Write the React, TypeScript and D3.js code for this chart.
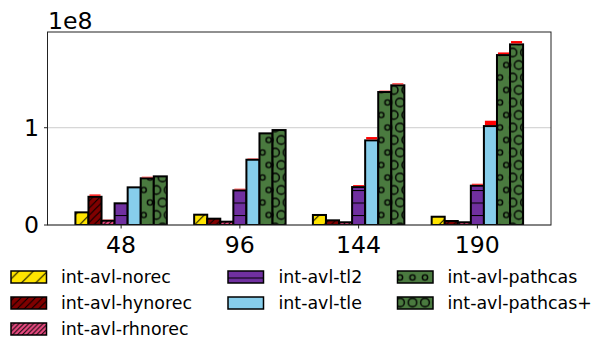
import React from 'react'
import * as d3 from 'd3'

// thread counts on the x axis
const categories = ['48', '96', '144', '190']

const seriesNames = [
  'int-avl-norec',
  'int-avl-hynorec',
  'int-avl-rhnorec',
  'int-avl-tl2',
  'int-avl-tle',
  'int-avl-pathcas',
  'int-avl-pathcas+'
]

// values in units of 1e8, one array per series (48, 96, 144, 190)
const norec = [0.13, 0.106, 0.103, 0.085]
const hynorec = [0.29, 0.065, 0.048, 0.041]
const rhnorec = [0.044, 0.034, 0.028, 0.028]
const tl2 = [0.223, 0.356, 0.39, 0.404]
const tle = [0.387, 0.671, 0.87, 1.017]
const pathcas = [0.48, 0.942, 1.367, 1.747]
const pathcasPlus = [0.5, 0.976, 1.436, 1.857]

// error bar half-widths (1e8)
const norecErr = [0.004, 0.01, 0.005, 0.005]
const hynorecErr = [0.024, 0.01, 0.005, 0.005]
const rhnorecErr = [0.013, 0.005, 0.003, 0.003]
const tl2Err = [0.006, 0.017, 0.02, 0.02]
const tleErr = [0.004, 0.014, 0.034, 0.055]
const pathcasErr = [0.016, 0.01, 0.014, 0.027]
const pathcasPlusErr = [0.01, 0.01, 0.02, 0.034]

const yTicks = [0, 1]

const values = [norec, hynorec, rhnorec, tl2, tle, pathcas, pathcasPlus]
const errors = [norecErr, hynorecErr, rhnorecErr, tl2Err, tleErr, pathcasErr, pathcasPlusErr]

const colors = ['#ffe400', '#800000', '#ec4a82', '#7030a0', '#87ceeb', '#4a7a3f', '#4a7a3f']
const hatches = ['/', '//', '///', '-', '', 'o', 'O']

const W = 600
const H = 339
const left = 47.5
const right = 551
const top = 32
const bottom = 225
const barW = 0.11
const unit = 12.5 // hatch spacing
const originY = 340 % unit

const font = 'DejaVu Sans, sans-serif'

function Pattern({ id, color, hatch }: { id: string; color: string; hatch: string }) {
  if (!hatch) return null
  if (hatch.startsWith('/')) {
    const s = (unit * 1.15) / hatch.length
    return (
      <pattern id={id} patternUnits='userSpaceOnUse' width={s} height={s} x={0} y={originY}>
        <rect width={s} height={s} fill={color} />
        <path
          d={`M${-s / 2},${s / 2}L${s / 2},${-s / 2}M0,${s}L${s},0M${s / 2},${1.5 * s}L${1.5 * s},${s / 2}`}
          stroke='#000'
          strokeWidth={1}
        />
      </pattern>
    )
  }
  if (hatch === '-') {
    return (
      <pattern id={id} patternUnits='userSpaceOnUse' width={unit} height={unit} x={0} y={originY}>
        <rect width={unit} height={unit} fill={color} />
        <path d={`M0,0.5H${unit}`} stroke='#000' strokeWidth={1.1} />
      </pattern>
    )
  }
  const r = hatch === 'o' ? 2.6 : 4.3
  const pts = [
    [0, 0],
    [unit, 0],
    [unit / 2, unit],
    [0, 2 * unit],
    [unit, 2 * unit]
  ]
  return (
    <pattern id={id} patternUnits='userSpaceOnUse' width={unit} height={2 * unit} x={0} y={originY}>
      <rect width={unit} height={2 * unit} fill={color} />
      {pts.map(([cx, cy], i) => (
        <circle key={i} cx={cx} cy={cy} r={r} fill='none' stroke='#000' strokeWidth={1.4} />
      ))}
    </pattern>
  )
}

export default function App() {
  const x = d3.scaleLinear().domain([-0.62, 3.62]).range([left, right])
  const y = d3.scaleLinear().domain([0, 1.984]).range([bottom, top])
  const bw = x(barW) - x(0)
  const fillOf = (j: number) => (hatches[j] ? `url(#h${j})` : colors[j])

  const legendCols = [11, 228, 397.5]
  const legendTextX = [61, 278.5, 447.5]
  const legendRows = [277, 303, 329]
  const legendPos = [
    [0, 0],
    [0, 1],
    [0, 2],
    [1, 0],
    [1, 1],
    [2, 0],
    [2, 1]
  ]

  return (
    <svg
      width={W}
      height={H}
      style={{ position: 'absolute', left: 0, top: 0, background: '#fff' }}
      fontFamily={font}
    >
      <defs>
        {colors.map((c, j) => (
          <Pattern key={j} id={`h${j}`} color={c} hatch={hatches[j]} />
        ))}
        <clipPath id='plot'>
          <rect x={left} y={top} width={right - left} height={bottom - top} />
        </clipPath>
      </defs>

      {/* grid */}
      {yTicks.map((t) => (
        <line key={t} x1={left} x2={right} y1={y(t)} y2={y(t)} stroke='#cccccc' strokeWidth={1} />
      ))}

      {/* bars */}
      <g clipPath='url(#plot)'>
        {values.map((vals, j) =>
          vals.map((v, i) => {
            const x0 = x(i + (j - 3) * barW) - bw / 2
            return (
              <rect
                key={`${j}-${i}`}
                x={x0}
                y={y(v)}
                width={bw}
                height={y(0) - y(v)}
                fill={fillOf(j)}
                stroke='#000'
                strokeWidth={2}
              />
            )
          })
        )}
        {values.map((vals, j) =>
          vals.map((v, i) => {
            const cx = x(i + (j - 3) * barW)
            const e = errors[j][i]
            return (
              <rect
                key={`e${j}-${i}`}
                x={cx - bw / 2 + 1}
                y={y(v + e)}
                width={bw - 2}
                height={Math.max(0, y(v) - y(v + e) - 1)}
                fill='#ff0000'
              />
            )
          })
        )}
      </g>

      {/* frame */}
      <rect x={left} y={top} width={right - left} height={bottom - top} fill='none' stroke='#222' strokeWidth={1} />

      {/* x axis */}
      {categories.map((c, i) => (
        <g key={c}>
          <line x1={x(i)} x2={x(i)} y1={bottom} y2={bottom + 3.5} stroke='#222' />
          <text x={x(i)} y={253} textAnchor='middle' fontSize={23.6} fill='#000'>
            {c}
          </text>
        </g>
      ))}

      {/* y axis */}
      {yTicks.map((t) => (
        <g key={t}>
          <line x1={left - 3.5} x2={left} y1={y(t)} y2={y(t)} stroke='#222' />
          <text x={39} y={y(t)} dy='0.36em' textAnchor='end' fontSize={23.6} fill='#000'>
            {t}
          </text>
        </g>
      ))}
      <text x={48} y={29} fontSize={23.6} fill='#000'>
        1e8
      </text>

      {/* legend */}
      {seriesNames.map((name, j) => {
        const [c, r] = legendPos[j]
        const cy = legendRows[r]
        return (
          <g key={name}>
            <rect
              x={legendCols[c]}
              y={cy - 6}
              width={35.5}
              height={12}
              fill={fillOf(j)}
              stroke='#000'
              strokeWidth={1.5}
            />
            <text x={legendTextX[c]} y={cy} dy='0.36em' fontSize={17.4} fill='#000'>
              {name}
            </text>
          </g>
        )
      })}
    </svg>
  )
}
